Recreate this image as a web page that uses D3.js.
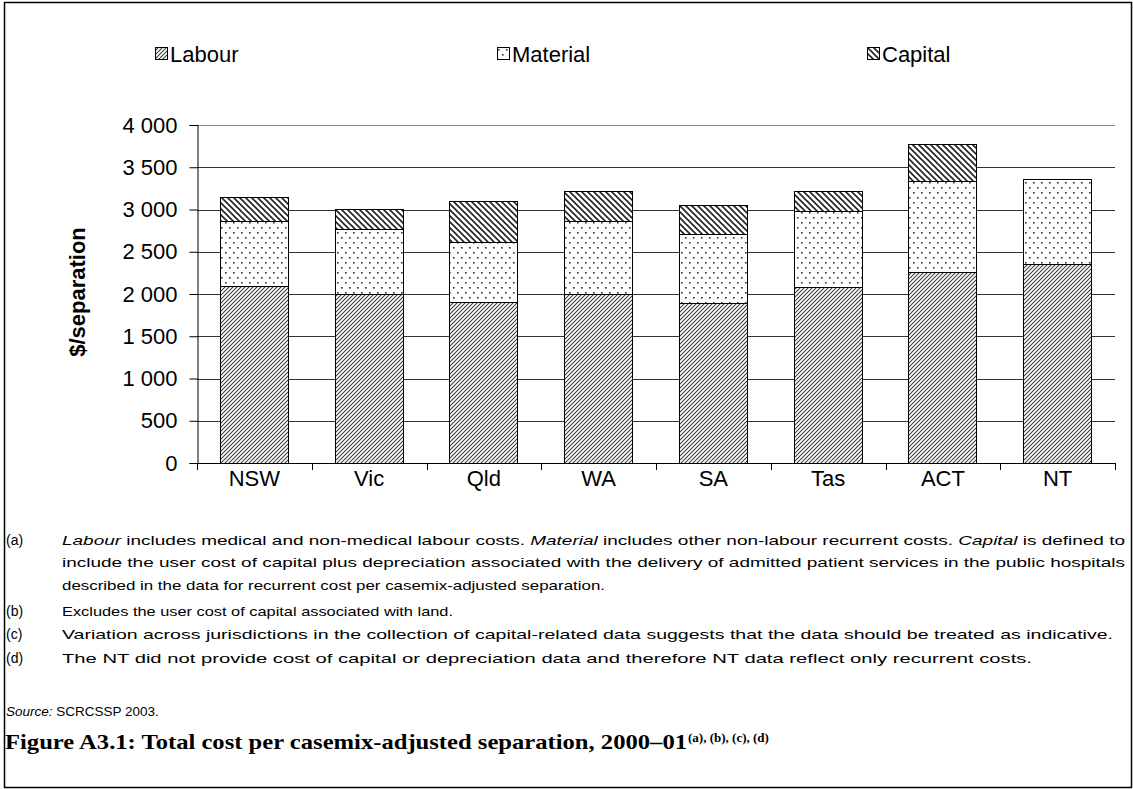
<!DOCTYPE html>
<html>
<head>
<meta charset="utf-8">
<script src="https://cdn.jsdelivr.net/npm/d3@7"></script>
<style>
  body { margin: 0; background: #fff; }
  svg { display: block; }
</style>
</head>
<body>
<svg id="chart" width="1133" height="789" font-family="'Liberation Sans', Arial, sans-serif"></svg>
<script>
const states   = ["NSW", "Vic", "Qld", "WA", "SA", "Tas", "ACT", "NT"];
const labour   = [2100, 2005, 1910, 2005, 1890, 2080, 2265, 2360];
const material = [760, 760, 710, 855, 825, 905, 1070, 1000];
const capital  = [290, 240, 480, 355, 335, 235, 445, 0];
const seriesNames = ["Labour", "Material", "Capital"];
const yTicks = [0, 500, 1000, 1500, 2000, 2500, 3000, 3500, 4000];

const notes = [
  ["(a)", [["i", "Labour"], ["n", " includes medical and non-medical labour costs. "], ["i", "Material"], ["n", " includes other non-labour recurrent costs. "], ["i", "Capital"], ["n", " is defined to"]]],
  ["", [["n", "include the user cost of capital plus depreciation associated with the delivery of admitted patient services in the public hospitals"]]],
  ["", [["n", "described in the data for recurrent cost per casemix-adjusted separation."]]],
  ["(b)", [["n", "Excludes the user cost of capital associated with land."]]],
  ["(c)", [["n", "Variation across jurisdictions in the collection of capital-related data suggests that the data should be treated as indicative."]]],
  ["(d)", [["n", "The NT did not provide cost of capital or depreciation data and therefore NT data reflect only recurrent costs."]]]
];
const noteY = [545, 567, 590, 616, 639, 663];
const noteW = [1063, 1063, 543, 391, 1051, 970];

const svg = d3.select("#chart");

// patterns
const defs = svg.append("defs");
const pLab = defs.append("pattern").attr("id", "pat-Labour")
  .attr("patternUnits", "userSpaceOnUse").attr("width", 4).attr("height", 4);
pLab.append("rect").attr("width", 4).attr("height", 4).attr("fill", "#fff");
pLab.append("path").attr("d", "M-1,1 l2,-2 M0,4 l4,-4 M3,5 l2,-2")
  .attr("stroke", "#3a3a3a").attr("stroke-width", 1.05);

const pCap = defs.append("pattern").attr("id", "pat-Capital")
  .attr("patternUnits", "userSpaceOnUse").attr("width", 6).attr("height", 6);
pCap.append("rect").attr("width", 6).attr("height", 6).attr("fill", "#fff");
pCap.append("path").attr("d", "M-1,5 l2,2 M0,0 l6,6 M5,-1 l2,2")
  .attr("stroke", "#222").attr("stroke-width", 1.6);

const pMat = defs.append("pattern").attr("id", "pat-Material")
  .attr("patternUnits", "userSpaceOnUse").attr("width", 8).attr("height", 10);
pMat.append("rect").attr("width", 8).attr("height", 10).attr("fill", "#fff");
pMat.append("rect").attr("x", 1).attr("y", 2).attr("width", 1.6).attr("height", 1.6).attr("fill", "#333");
pMat.append("rect").attr("x", 5).attr("y", 7).attr("width", 1.6).attr("height", 1.6).attr("fill", "#333");

// frame
svg.append("rect").attr("x", 4.5).attr("y", 2.5).attr("width", 1127).attr("height", 785)
  .attr("fill", "none").attr("stroke", "#000").attr("stroke-width", 1.5);

const x = d3.scaleBand().domain(states).range([197, 1115]).paddingInner(0.4).paddingOuter(0.2);
const y = d3.scaleLinear().domain([0, 4000]).range([463, 125]);
const fmt = d => d3.format(",")(d).replace(/,/g, " ");

// grid
svg.append("g").selectAll("line").data(yTicks.filter(d => d > 0)).join("line")
  .attr("x1", 197).attr("x2", 1115)
  .attr("y1", d => Math.round(y(d)) + 0.5).attr("y2", d => Math.round(y(d)) + 0.5)
  .attr("stroke", d => d === 4000 ? "#888" : "#333").attr("stroke-width", 1);

// stacked bars
const table = states.map((s, i) => ({ state: s, Labour: labour[i], Material: material[i], Capital: capital[i] }));
const stacked = d3.stack().keys(seriesNames)(table);

svg.append("g").selectAll("g").data(stacked).join("g")
  .attr("fill", d => `url(#pat-${d.key})`)
  .selectAll("rect").data(d => d.filter(v => v[1] > v[0])).join("rect")
  .attr("x", d => Math.round(x(d.data.state)) + 0.5)
  .attr("width", Math.round(x.bandwidth()) - 1)
  .attr("y", d => Math.round(y(d[1])) + 0.5)
  .attr("height", d => Math.round(y(d[0])) - Math.round(y(d[1])))
  .attr("stroke", "#000").attr("stroke-width", 1);

// y axis
const yAxis = svg.append("g").attr("transform", "translate(197.5,0)")
  .call(d3.axisLeft(y).tickValues(yTicks).tickFormat(fmt).tickSize(8).tickPadding(12));
yAxis.attr("font-family", null).attr("font-size", null);
yAxis.select(".domain").attr("stroke", "#000");
yAxis.selectAll("line").attr("stroke", "#000");
yAxis.selectAll("text").attr("font-size", 22).attr("fill", "#000");

// x axis
svg.append("line").attr("x1", 197).attr("x2", 1115).attr("y1", 463.5).attr("y2", 463.5).attr("stroke", "#000");
svg.append("g").selectAll("line").data(d3.range(states.length + 1)).join("line")
  .attr("x1", i => Math.round(197 + i * x.step()) + 0.5)
  .attr("x2", i => Math.round(197 + i * x.step()) + 0.5)
  .attr("y1", 463).attr("y2", 470).attr("stroke", "#000");
svg.append("g").selectAll("text").data(states).join("text")
  .attr("x", d => x(d) + x.bandwidth() / 2).attr("y", 486)
  .attr("text-anchor", "middle").attr("font-size", 22).text(d => d);

// y title
svg.append("text").attr("transform", "translate(85,292) rotate(-90)")
  .attr("text-anchor", "middle").attr("font-size", 22).attr("font-weight", "bold")
  .text("$/separation");

// legend
const legX = [155, 497, 867];
const leg = svg.append("g").selectAll("g").data(seriesNames).join("g")
  .attr("transform", (d, i) => `translate(${legX[i]},47)`);
leg.append("rect").attr("x", 0.5).attr("y", 0.5).attr("width", 12).attr("height", 12)
  .attr("fill", d => `url(#pat-${d})`).attr("stroke", "#000");
leg.append("text").attr("x", 15).attr("y", 15).attr("font-size", 22).text(d => d);

// footnotes
const nt = svg.append("g");
notes.forEach((n, i) => {
  nt.append("text").attr("x", 6).attr("y", noteY[i]).attr("font-size", 14).text(n[0]);
  const t = nt.append("text").attr("x", 62).attr("y", noteY[i]).attr("font-size", 13.5)
    .attr("textLength", noteW[i]).attr("lengthAdjust", "spacingAndGlyphs");
  n[1].forEach(p => t.append("tspan").attr("font-style", p[0] === "i" ? "italic" : "normal").text(p[1]));
});

const src = svg.append("text").attr("x", 6).attr("y", 716).attr("font-size", 13.5);
src.append("tspan").attr("font-style", "italic").text("Source:");
src.append("tspan").text(" SCRCSSP 2003.");

const serif = "'Liberation Serif', 'DejaVu Serif', serif";
svg.append("text").attr("x", 5).attr("y", 749)
  .attr("font-family", serif).attr("font-weight", "bold").attr("font-size", 21)
  .attr("textLength", 682).attr("lengthAdjust", "spacingAndGlyphs")
  .text("Figure A3.1: Total cost per casemix-adjusted separation, 2000\u201301");
svg.append("text").attr("x", 688).attr("y", 742)
  .attr("font-family", serif).attr("font-weight", "bold").attr("font-size", 13)
  .text("(a), (b), (c), (d)");
</script>
</body>
</html>
